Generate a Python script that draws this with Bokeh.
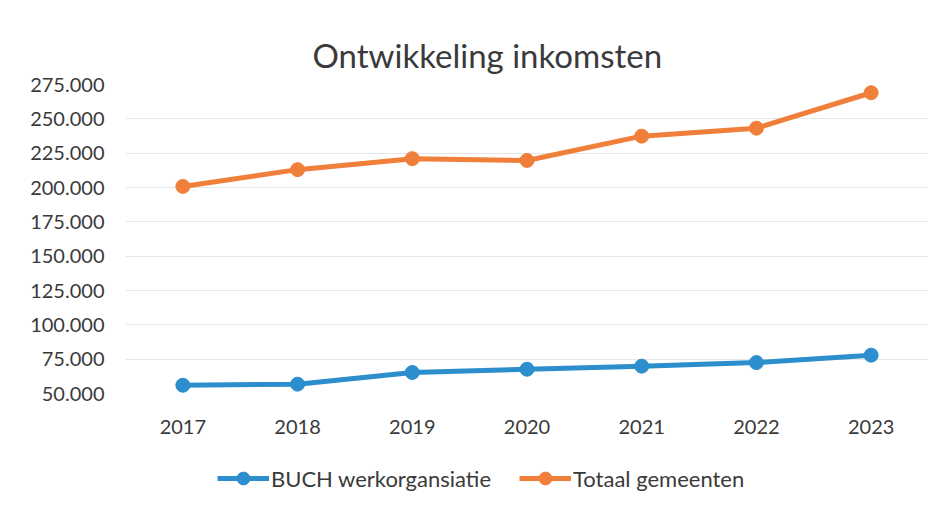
from bokeh.plotting import figure
from bokeh.layouts import column
from bokeh.models import Range1d, FixedTicker, CustomJSTickFormatter, Legend, LegendItem
from bokeh.embed import file_html
from bokeh.resources import INLINE

years = ["2017", "2018", "2019", "2020", "2021", "2022", "2023"]
buch = [56000, 56800, 65300, 67700, 69900, 72500, 77900]
totaal = [200800, 213000, 221000, 219700, 237400, 243200, 269000]
y_ticks = [50000, 75000, 100000, 125000, 150000, 175000, 200000, 225000, 250000, 275000]
series_names = ["BUCH werkorgansiatie", "Totaal gemeenten"]
title_text = "Ontwikkeling inkomsten"

BLUE = "#2C8ECC"
ORANGE = "#F07F3B"
TXT = "#3a3a3a"
FONT = "Lato"

p = figure(width=928, height=454, x_range=years, y_range=Range1d(50000, 275000),
           output_backend="svg", toolbar_location=None,
           min_border_left=125, min_border_right=0, min_border_top=84, min_border_bottom=61)

p.title.text = title_text
p.title.align = "left"
p.title.offset = 187
p.title.standoff = 20
p.title.text_font = FONT
p.title.text_font_size = "33px"
p.title.text_font_style = "normal"
p.title.text_color = TXT

p.outline_line_color = None
p.xgrid.grid_line_color = None
p.ygrid.grid_line_color = "#e6e6e6"
p.ygrid.grid_line_width = 1
p.yaxis.ticker = FixedTicker(ticks=y_ticks)
p.yaxis.formatter = CustomJSTickFormatter(code="""
return Math.round(tick).toString().replace(/\\B(?=(\\d{3})+(?!\\d))/g, ".");
""")

for ax in (p.xaxis, p.yaxis):
    ax.axis_line_color = None
    ax.major_tick_line_color = None
    ax.minor_tick_line_color = None
    ax.major_label_text_font = FONT
    ax.major_label_text_font_size = "20px"
    ax.major_label_text_color = TXT
p.yaxis.major_label_standoff = 15
p.xaxis.major_label_standoff = 20

p.line(years, buch, line_color=BLUE, line_width=5)
p.scatter(years, buch, size=14, fill_color=BLUE, line_color=BLUE)
p.line(years, totaal, line_color=ORANGE, line_width=5)
p.scatter(years, totaal, size=14, fill_color=ORANGE, line_color=ORANGE)

# legend strip: same series, drawn outside this strip's visible y range
q = figure(width=928, height=40, x_range=years, y_range=(0, 1),
           output_backend="svg", toolbar_location=None,
           min_border=0)
q.axis.visible = False
q.grid.visible = False
q.outline_line_color = None
l1 = q.line(years, buch, line_color=BLUE, line_width=5)
c1 = q.scatter(years, buch, size=14, fill_color=BLUE, line_color=BLUE)
l2 = q.line(years, totaal, line_color=ORANGE, line_width=5)
c2 = q.scatter(years, totaal, size=14, fill_color=ORANGE, line_color=ORANGE)
legend = Legend(items=[LegendItem(label=series_names[0], renderers=[l1, c1]),
                       LegendItem(label=series_names[1], renderers=[l2, c2])],
                orientation="horizontal", location=(92, 0),
                label_text_font=FONT, label_text_font_size="22px", label_text_color=TXT,
                glyph_width=52, glyph_height=32, label_standoff=2, spacing=28,
                border_line_color=None, background_fill_alpha=0, margin=0, padding=0)
q.add_layout(legend)

layout = column(p, q, spacing=0)
open("out.html", "w").write(file_html(layout, INLINE))
